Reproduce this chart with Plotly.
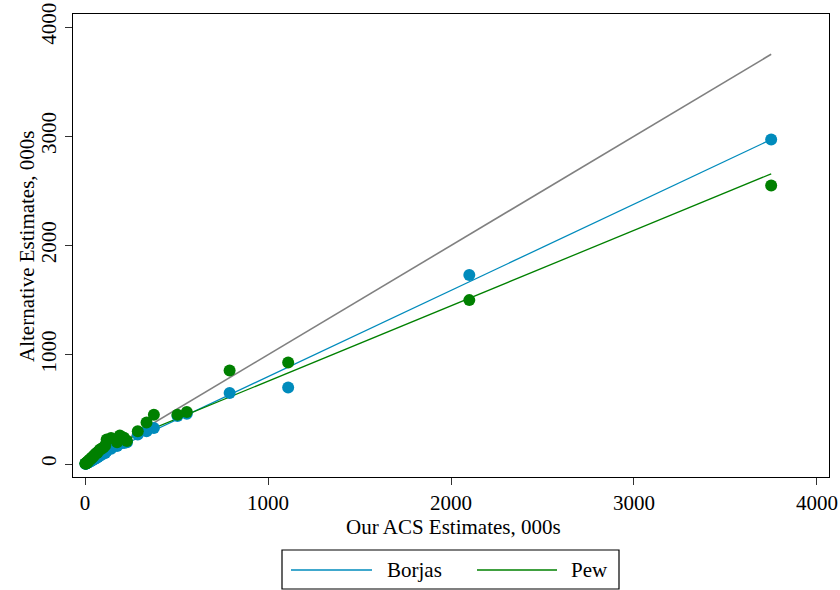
import numpy as np
import plotly.graph_objects as go

# Data (thousands)
acs = [3750, 2100, 1110, 790, 556, 505, 376, 336, 288, 229, 213, 190, 175, 142, 118,
       110, 100, 90, 80, 70, 65, 58, 50, 45, 40, 35, 30, 25, 20, 17, 14, 11, 8, 6, 5, 3, 2]
borjas = [2970, 1730, 700, 650, 460, 440, 330, 300, 270, 200, 192, 185, 165, 140, 120,
          100, 95, 85, 75, 65, 60, 50, 45, 40, 36, 30, 26, 22, 17, 15, 12, 10, 7, 5, 4, 3, 2]
pew = [2550, 1500, 930, 855, 475, 450, 450, 380, 300, 210, 240, 262, 200, 237, 225,
       170, 150, 140, 130, 110, 100, 95, 80, 70, 60, 55, 45, 40, 30, 25, 20, 15, 10, 10, 5, 5, 5]

x_ticks = [0, 1000, 2000, 3000, 4000]
y_ticks = [0, 1000, 2000, 3000, 4000]
series_names = ["Borjas", "Pew"]

BLUE = "rgb(0,139,188)"
GREEN = "rgb(0,128,0)"
GRAY = "rgb(128,128,128)"
FONT = "Liberation Serif"
FS = 21

xa = np.array(acs, dtype=float)
xl = np.array([xa.min(), xa.max()])

fig = go.Figure()

# 45-degree line
fig.add_trace(go.Scatter(x=xl, y=xl, mode="lines", line=dict(color=GRAY, width=1.6),
                         showlegend=False, hoverinfo="skip"))
# fitted lines
for ys, col in [(borjas, BLUE), (pew, GREEN)]:
    b, a = np.polyfit(xa, np.array(ys, dtype=float), 1)
    fig.add_trace(go.Scatter(x=xl, y=a + b * xl, mode="lines", line=dict(color=col, width=1.3),
                             showlegend=False, hoverinfo="skip"))
# points
fig.add_trace(go.Scatter(x=acs, y=borjas, mode="markers", marker=dict(color=BLUE, size=12),
                         name=series_names[0], showlegend=False))
fig.add_trace(go.Scatter(x=acs, y=pew, mode="markers", marker=dict(color=GREEN, size=12),
                         name=series_names[1], showlegend=False))

axis_common = dict(showgrid=False, zeroline=False, showline=True, linecolor="black",
                   linewidth=1.3, mirror=True, ticks="outside", ticklen=7, tickwidth=1.2,
                   tickcolor="rgb(50,50,50)", automargin=False,
                   tickfont=dict(family=FONT, size=FS, color="black"))

fig.update_xaxes(range=[-66, 4066], tickvals=x_ticks, ticktext=[str(v) for v in x_ticks],
                 **axis_common)
fig.update_yaxes(range=[-119, 4119], tickvals=y_ticks, ticktext=[str(v) for v in y_ticks],
                 tickangle=-90, **axis_common)

L, R, T, B = 73, 11, 14, 113
PW, PH = 840 - L - R, 590 - T - B


def px(xp):
    return (xp - L) / PW


def py(yp):
    return (590 - B - yp) / PH


# manual legend
shapes = [dict(type="rect", xref="paper", yref="paper", x0=px(282), x1=px(619),
               y0=py(589), y1=py(550), line=dict(color="black", width=1.2),
               fillcolor="white")]
ly = py(570)
shapes.append(dict(type="line", xref="paper", yref="paper", x0=px(291), x1=px(372),
                   y0=ly, y1=ly, line=dict(color=BLUE, width=1.3)))
shapes.append(dict(type="line", xref="paper", yref="paper", x0=px(477), x1=px(557),
                   y0=ly, y1=ly, line=dict(color=GREEN, width=1.3)))
annotations = [
    dict(text=series_names[0], xref="paper", yref="paper", x=px(385), y=ly, xanchor="left",
         yanchor="middle", showarrow=False, font=dict(family=FONT, size=FS, color="black")),
    dict(text=series_names[1], xref="paper", yref="paper", x=px(569), y=ly, xanchor="left",
         yanchor="middle", showarrow=False, font=dict(family=FONT, size=FS, color="black")),
    dict(text="Our ACS Estimates, 000s", xref="paper", yref="paper", x=px(453), y=py(527),
         xanchor="center", yanchor="middle", showarrow=False,
         font=dict(family=FONT, size=FS, color="black")),
    dict(text="Alternative Estimates, 000s", xref="paper", yref="paper", x=px(27), y=py(246),
         xanchor="center", yanchor="middle", textangle=-90, showarrow=False,
         font=dict(family=FONT, size=FS, color="black")),
]

fig.update_layout(width=840, height=590, margin=dict(l=L, r=R, t=T, b=B, autoexpand=False),
                  paper_bgcolor="white", plot_bgcolor="white", shapes=shapes,
                  annotations=annotations, showlegend=False)

fig.write_html("out.html")
